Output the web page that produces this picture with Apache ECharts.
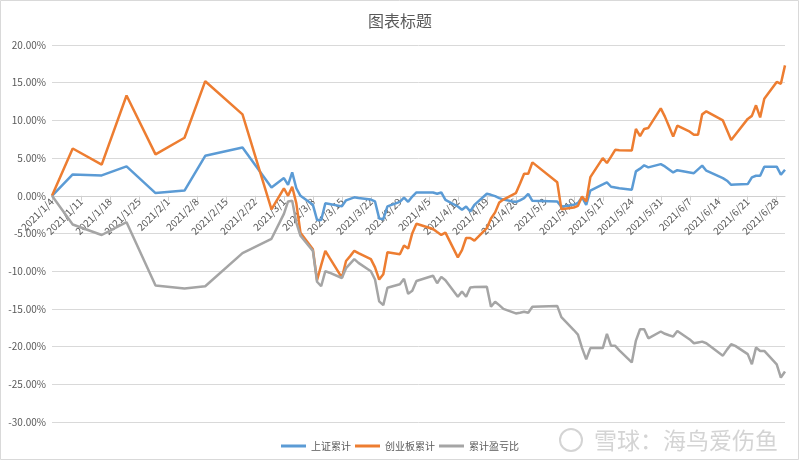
<!DOCTYPE html>
<html><head><meta charset="utf-8">
<script src="https://cdn.jsdelivr.net/npm/echarts@6/dist/echarts.min.js"></script>
<style>html,body{margin:0;padding:0;background:#fff}#c{width:800px;height:461px}</style>
</head><body><div id="c"></div>
<script>
const titleText = '图表标题';
const seriesNames = ['上证累计', '创业板累计', '累计盈亏比'];
const dates = [
'2021-01-04','2021-01-09','2021-01-16','2021-01-22','2021-01-29','2021-02-05','2021-02-10','2021-02-19','2021-02-26',
'2021-03-01','2021-03-02','2021-03-03','2021-03-04','2021-03-05',
'2021-03-08','2021-03-09','2021-03-10','2021-03-11','2021-03-12',
'2021-03-15','2021-03-16','2021-03-17','2021-03-18','2021-03-19',
'2021-03-22','2021-03-23','2021-03-24','2021-03-25','2021-03-26',
'2021-03-29','2021-03-30','2021-03-31','2021-04-01','2021-04-02',
'2021-04-06','2021-04-07','2021-04-08','2021-04-09',
'2021-04-12','2021-04-13','2021-04-14','2021-04-15','2021-04-16',
'2021-04-19','2021-04-20','2021-04-21','2021-04-22','2021-04-23',
'2021-04-26','2021-04-27','2021-04-28','2021-04-29','2021-04-30',
'2021-05-06','2021-05-07',
'2021-05-10','2021-05-11','2021-05-12','2021-05-13','2021-05-14',
'2021-05-17','2021-05-18','2021-05-19','2021-05-20','2021-05-21',
'2021-05-24','2021-05-25','2021-05-26','2021-05-27','2021-05-28',
'2021-05-31','2021-06-01','2021-06-02','2021-06-03','2021-06-04',
'2021-06-07','2021-06-08','2021-06-09','2021-06-10','2021-06-11',
'2021-06-15','2021-06-16','2021-06-17','2021-06-18',
'2021-06-21','2021-06-22','2021-06-23','2021-06-24','2021-06-25',
'2021-06-28','2021-06-29','2021-06-30'];
const shangzheng = [
0, 2.84, 2.7, 3.9, 0.36, 0.7, 5.3, 6.4, 1.1,
2.35, 1.46, 3.1, 1.0, 0.0,
-1.2, -3.2, -3.2, -1.0, -1.1,
-1.4, -0.6, -0.4, -0.2, -0.3,
-0.5, -0.75, -3.0, -3.1, -1.4,
-0.8, -0.25, -0.8, -0.1, 0.44,
0.44, 0.27, 0.44, -0.53,
-1.42, -1.86, -1.42, -2.08, -1.2,
0.27, 0.13, -0.05, -0.31, -0.5,
-0.84, -0.6, -0.31, 0.27, -0.66,
-0.75, -1.45,
-1.2, -0.95, -0.2, -1.2, 0.7,
1.5, 1.77, 1.2, 1.1, 1.0,
0.8, 3.24, 3.6, 4.04, 3.77,
4.2, 3.9, 3.5, 3.1, 3.4,
3.1, 3.0, 3.5, 4.0, 3.33,
2.35, 2.0, 1.46, 1.5,
1.55, 2.44, 2.66, 2.66, 3.86,
3.86, 2.8, 3.46];
const chuangyeban = [
0, 6.27, 4.13, 13.3, 5.5, 7.7, 15.2, 10.8, -1.8,
1.0, 0.0, 1.2, -1.0, -4.9,
-7.1, -11.2, -9.2, -7.3, -8.2,
-10.86, -8.64, -8.0, -7.3, -7.6,
-8.4, -9.5, -11.1, -10.4, -7.5,
-7.75, -6.6, -7.0, -4.96, -3.7,
-4.4, -4.8, -5.19, -4.88,
-8.16, -7.2, -5.6, -5.6, -5.94,
-4.3, -3.0, -2.2, -0.9, -0.5,
0.35, 1.6, 2.93, 2.93, 4.43,
1.8, -1.77,
-1.55, -1.33, -0.1, -0.75, 2.48,
5.0, 4.35, 5.2, 6.1, 6.05,
6.0, 8.87, 7.9, 8.87, 9.0,
11.6, 10.5, 9.2, 7.85, 9.3,
8.5, 8.1, 8.1, 10.8, 11.2,
10.0, 8.7, 7.4, 8.1,
10.2, 10.6, 12.0, 10.4, 12.86,
15.1, 14.86, 17.3];
const yingkui = [
0, -3.8, -5.2, -3.5, -11.9, -12.3, -12.0, -7.6, -5.7,
-2.4, -0.75, -0.66, -3.55, -5.3,
-7.3, -11.4, -12.0, -10.0, -10.2,
-10.9, -9.6, -9.0, -8.4, -8.9,
-10.0, -11.1, -14.0, -14.5, -12.2,
-11.74, -11.0, -13.0, -12.6, -11.3,
-10.6, -11.6, -10.75, -11.2,
-13.4, -12.7, -13.4, -12.15, -12.1,
-12.06, -14.72, -14.05, -14.5, -15.0,
-15.6, -15.5, -15.39, -15.51, -14.72,
-14.6, -16.1,
-17.8, -18.4, -20.2, -21.7, -20.2,
-20.2, -18.3, -19.9, -19.9, -20.5,
-22.1, -19.2, -17.7, -17.7, -18.9,
-18.0, -18.3, -18.5, -18.67, -17.92,
-19.05, -19.56, -19.45, -19.34, -19.56,
-21.2, -20.4, -19.69, -19.9,
-21.0, -22.35, -20.13, -20.58, -20.58,
-22.35, -24.1, -23.3];
const xTickLabels = ['2021/1/4','2021/1/11','2021/1/18','2021/1/25','2021/2/1','2021/2/8','2021/2/15','2021/2/22',
'2021/3/1','2021/3/8','2021/3/15','2021/3/22','2021/3/29','2021/4/5','2021/4/12','2021/4/19','2021/4/26',
'2021/5/3','2021/5/10','2021/5/17','2021/5/24','2021/5/31','2021/6/7','2021/6/14','2021/6/21','2021/6/28'];
const yMin = -30, yMax = 20, yStep = 5;
const watermark = '雪球：海鸟爱伤鱼';

function dayOf(s) {
  const p = s.split(/[-\/]/).map(Number);
  return (Date.UTC(p[0], p[1] - 1, p[2]) - Date.UTC(2021, 0, 4)) / 86400000;
}
const xTickDays = xTickLabels.map(dayOf);
const labelByDay = {};
xTickLabels.forEach((l, i) => { labelByDay[xTickDays[i]] = l; });
const xs = dates.map(dayOf);
const pair = arr => arr.map((v, i) => [xs[i], v]);

const W = 800, H = 461;
const gridL = 52, gridR = 15, gridT = 45, gridB = 39;
const plotH = H - gridT - gridB;
// move the horizontal axis from the grid bottom to the y=0 line
const zeroOffset = -plotH * (0 - yMin) / (yMax - yMin);

const font = "'Microsoft YaHei','Noto Sans CJK SC',sans-serif";
const chart = echarts.init(document.getElementById('c'), null, {renderer: 'canvas'});
chart.setOption({
  animation: false,
  backgroundColor: '#fff',
  textStyle: {fontFamily: font},
  color: ['#5B9BD5', '#ED7D31', '#A5A5A5'],
  title: {text: titleText, left: 'center', top: 8,
    textStyle: {fontSize: 16, fontWeight: 'normal', color: '#595959', fontFamily: font}},
  legend: {top: 436, left: 'center', icon: 'rect', itemWidth: 25, itemHeight: 3, itemGap: 4,
    textStyle: {fontSize: 10, color: '#595959', fontFamily: font}, data: seriesNames},
  grid: {left: gridL, right: gridR, top: gridT, bottom: gridB},
  xAxis: {
    type: 'value', min: 0, max: xs[xs.length - 1],
    offset: zeroOffset,
    splitLine: {show: false},
    axisLine: {onZero: false, lineStyle: {color: '#d0d0d0', width: 1}},
    axisTick: {show: true, length: 5, lineStyle: {color: '#d0d0d0'}, customValues: xTickDays},
    axisLabel: {rotate: 45, margin: 4, fontSize: 10, color: '#595959', fontFamily: font,
      customValues: xTickDays, formatter: v => labelByDay[v] || ''}
  },
  yAxis: {
    type: 'value', min: yMin, max: yMax, interval: yStep,
    axisLine: {show: false, onZero: false}, axisTick: {show: false},
    splitLine: {lineStyle: {color: '#d9d9d9', width: 1}},
    axisLabel: {fontSize: 10, color: '#595959', margin: 6, fontFamily: font,
      formatter: v => v.toFixed(2) + '%'}
  },
  series: [
    {name: seriesNames[0], type: 'line', data: pair(shangzheng), symbol: 'none', lineStyle: {width: 2.5}},
    {name: seriesNames[1], type: 'line', data: pair(chuangyeban), symbol: 'none', lineStyle: {width: 2.5}},
    {name: seriesNames[2], type: 'line', data: pair(yingkui), symbol: 'none', lineStyle: {width: 2.5}}
  ],
  graphic: [
    {type: 'rect', shape: {x: 0.5, y: 0.5, width: 798, height: 459}, style: {fill: 'none', stroke: '#d9d9d9', lineWidth: 1}, silent: true},
    {type: 'circle', shape: {cx: 571, cy: 440, r: 11}, style: {fill: 'none', stroke: '#d4d4d4', lineWidth: 2}, silent: true},
    {type: 'text', x: 594, y: 440, style: {text: watermark, fontSize: 23, fill: '#d4d4d4', verticalAlign: 'middle', fontFamily: font}, silent: true}
  ]
});
</script></body></html>
